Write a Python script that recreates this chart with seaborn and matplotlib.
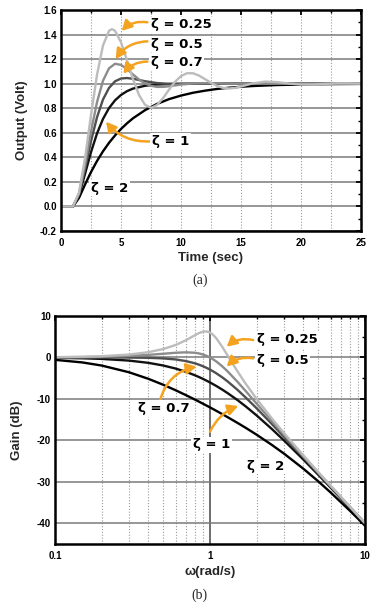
import matplotlib
matplotlib.use("Agg")
import matplotlib.pyplot as plt
import numpy as np
import pandas as pd
import seaborn as sns
from matplotlib.ticker import MultipleLocator, FixedLocator, NullFormatter, FormatStrFormatter, LogLocator

sns.set_theme(style="white")
plt.rcParams["font.family"] = ["Liberation Sans", "DejaVu Sans"]
plt.rcParams["font.weight"] = "bold"
plt.rcParams["axes.unicode_minus"] = False

# ---------------- data: (a) step response ----------------
zeta_names = ["0.25", "0.5", "0.7", "1", "2"]

t_z025 = [0, 1, 1.5, 2, 2.5, 3, 3.5, 4, 4.25, 4.5, 5, 5.5, 6, 6.5, 7, 7.5, 8, 8.5, 9, 9.5,
          10, 10.5, 11, 11.5, 12, 12.5, 13, 13.5, 14, 14.5, 15, 16, 17, 18, 19, 20, 21, 22, 23, 24, 25]
y_z025 = [0, 0, 0.113, 0.392, 0.743, 1.071, 1.311, 1.431, 1.444, 1.431, 1.337, 1.192, 1.037, 0.908,
          0.828, 0.803, 0.826, 0.882, 0.951, 1.015, 1.062, 1.085, 1.085, 1.066, 1.037, 1.007, 0.981,
          0.966, 0.961, 0.966, 0.977, 1.003, 1.017, 1.013, 1.001, 0.993, 0.993, 0.998, 1.003, 1.003, 1.001]

t_z05 = [0, 1, 1.5, 2, 2.5, 3, 3.5, 4, 4.5, 5, 5.5, 6, 6.5, 7, 7.5, 8, 8.5, 9, 9.5, 10,
         11, 12, 13, 14, 15, 20, 25]
y_z05 = [0, 0, 0.104, 0.340, 0.610, 0.849, 1.024, 1.125, 1.162, 1.153, 1.119, 1.075, 1.034, 1.002,
         0.983, 0.974, 0.974, 0.979, 0.986, 0.993, 1.002, 1.004, 1.003, 1.000, 1.000, 1.000, 1.000]

t_z07 = [0, 1, 1.5, 2, 2.5, 3, 3.5, 4, 4.5, 5, 5.5, 6, 6.5, 7, 8, 9, 10, 11, 15, 20, 25]
y_z07 = [0, 0, 0.098, 0.306, 0.531, 0.726, 0.871, 0.965, 1.019, 1.042, 1.046, 1.040, 1.030, 1.020,
         1.005, 0.999, 0.998, 0.999, 1.000, 1.000, 1.000]

t_z1 = [0, 1, 1.5, 2, 2.5, 3, 3.5, 4, 4.5, 5, 5.5, 6, 7, 8, 9, 10, 12, 15, 20, 25]
y_z1 = [0, 0, 0.090, 0.264, 0.442, 0.594, 0.713, 0.801, 0.864, 0.908, 0.939, 0.960, 0.983, 0.993,
        0.997, 0.999, 1.000, 1.000, 1.000, 1.000]

t_z2 = [0, 1, 1.5, 2, 2.5, 3, 3.5, 4, 4.5, 5, 5.5, 6, 7, 8, 9, 10, 11, 12, 13, 14, 15, 16, 17, 18,
        19, 20, 21, 23, 25]
y_z2 = [0, 0, 0.070, 0.178, 0.280, 0.370, 0.449, 0.518, 0.578, 0.631, 0.677, 0.718, 0.784, 0.835,
        0.874, 0.903, 0.926, 0.943, 0.957, 0.967, 0.975, 0.981, 0.985, 0.989, 0.991, 0.993, 0.995,
        0.997, 0.998]

# ---------------- data: (b) gain ----------------
w = [0.1, 0.15, 0.2, 0.3, 0.4, 0.5, 0.6, 0.7, 0.8, 0.85, 0.9, 0.95, 1.0, 1.05, 1.1, 1.2, 1.3,
     1.5, 1.7, 2, 2.5, 3, 4, 5, 6, 8, 10]
g_z025 = [0.08, 0.17, 0.31, 0.70, 1.28, 2.04, 3.01, 4.17, 5.38, 5.89, 6.22, 6.29, 6.02, 5.43, 4.60,
          2.57, 0.46, -3.27, -6.33, -10.00, -14.64, -18.21, -23.60, -27.65, -30.91, -36.00, -39.92]
g_z05 = [0.04, 0.10, 0.17, 0.37, 0.63, 0.90, 1.14, 1.25, 1.14, 0.97, 0.73, 0.40, 0.00, -0.47, -0.98,
         -2.13, -3.36, -5.81, -8.10, -11.14, -15.29, -18.63, -23.82, -27.79, -31.01, -36.06, -39.96]
g_z07 = [0.00, 0.00, 0.00, -0.02, -0.08, -0.22, -0.47, -0.87, -1.41, -1.74, -2.11, -2.50, -2.92,
         -3.37, -3.83, -4.79, -5.78, -7.76, -9.66, -12.26, -16.00, -19.12, -24.09, -27.96, -31.12,
         -36.12, -40.00]
g_z1 = [-0.09, -0.19, -0.34, -0.75, -1.29, -1.94, -2.67, -3.46, -4.30, -4.72, -5.15, -5.59, -6.02,
        -6.46, -6.89, -7.75, -8.60, -10.24, -11.80, -13.98, -17.21, -20.00, -24.61, -28.30, -31.36,
        -36.26, -40.09]
g_z2 = [-0.57, -1.19, -1.94, -3.56, -5.14, -6.59, -7.90, -9.09, -10.16, -10.66, -11.14, -11.60,
        -12.04, -12.47, -12.88, -13.66, -14.40, -15.75, -16.97, -18.63, -21.06, -23.18, -26.82,
        -29.89, -32.56, -36.98, -40.57]

step_t = [t_z025, t_z05, t_z07, t_z1, t_z2]
step_y = [y_z025, y_z05, y_z07, y_z1, y_z2]
gains = [g_z025, g_z05, g_z07, g_z1, g_z2]

df_step = pd.concat([pd.DataFrame({"t": tt, "y": yy, "zeta": z})
                     for tt, yy, z in zip(step_t, step_y, zeta_names)], ignore_index=True)
df_gain = pd.concat([pd.DataFrame({"w": w, "g": gg, "zeta": z})
                     for gg, z in zip(gains, zeta_names)], ignore_index=True)

palette = {"0.25": "#bcbcbc", "0.5": "#8c8c8c", "0.7": "#4f4f4f", "1": "#111111", "2": "#000000"}
draw_order = ["2", "1", "0.7", "0.5", "0.25"]
orange = "#F4A321"

fig = plt.figure(figsize=(3.8, 6.03), dpi=100)
fig.patch.set_facecolor("white")
ax1 = fig.add_axes([0.1605, 0.6169, 0.7895, 0.3665])
ax2 = fig.add_axes([0.1447, 0.0978, 0.8158, 0.3781])

sns.lineplot(data=df_step, x="t", y="y", hue="zeta", hue_order=draw_order, palette=palette,
             estimator=None, lw=1.7, legend=False, ax=ax1)
sns.lineplot(data=df_gain, x="w", y="g", hue="zeta", hue_order=draw_order, palette=palette,
             estimator=None, lw=1.7, legend=False, ax=ax2)

# ---- axes (a)
ax1.set_xlim(0, 25)
ax1.set_ylim(-0.2, 1.6)
ax1.xaxis.set_major_locator(MultipleLocator(5))
ax1.xaxis.set_minor_locator(MultipleLocator(2.5))
ax1.yaxis.set_major_locator(MultipleLocator(0.2))
ax1.yaxis.set_minor_locator(MultipleLocator(0.1))
ax1.yaxis.set_major_formatter(FormatStrFormatter("%.1f"))
ax1.grid(axis="y", which="major", color="#7a7a7a", lw=1.1, ls="-")
ax1.grid(axis="x", which="both", color="#9a9a9a", lw=0.8, ls=(0, (1, 1.6)))
ax1.set_xlabel("Time (sec)", fontsize=9.5, fontweight="bold")
ax1.set_ylabel("Output (Volt)", fontsize=9.5, fontweight="bold")
ax1.xaxis.set_label_coords(0.5, -0.122)
ax1.xaxis.label.set_va("center")
ax1.yaxis.set_label_coords(-0.13, 0.5)
ax1.yaxis.label.set_va("center")

# ---- axes (b)
ax2.set_xscale("log")
ax2.set_xlim(0.1, 10)
ax2.set_ylim(-45, 10)
ax2.xaxis.set_major_locator(FixedLocator([0.1, 1, 10]))
ax2.xaxis.set_minor_locator(LogLocator(base=10, subs=np.arange(2, 10)))
ax2.xaxis.set_minor_formatter(NullFormatter())
ax2.set_xticklabels(["0.1", "1", "10"])
ax2.yaxis.set_major_locator(MultipleLocator(10))
ax2.yaxis.set_minor_locator(MultipleLocator(5))
ax2.grid(axis="y", which="major", color="#7a7a7a", lw=1.1, ls="-")
ax2.grid(axis="x", which="major", color="#555555", lw=1.2, ls="-")
ax2.grid(axis="x", which="minor", color="#9a9a9a", lw=0.8, ls=(0, (1, 1.6)))
ax2.set_xlabel("ω(rad/s)", fontsize=9.5, fontweight="bold")
ax2.set_ylabel("Gain (dB)", fontsize=9.5, fontweight="bold")
ax2.xaxis.set_label_coords(0.5, -0.1215)
ax2.xaxis.label.set_va("center")
ax2.yaxis.set_label_coords(-0.121, 0.5)
ax2.yaxis.label.set_va("center")

for ax in (ax1, ax2):
    ax.set_facecolor("white")
    ax.set_axisbelow(True)
    for s in ax.spines.values():
        s.set_linewidth(1.8)
        s.set_color("black")
        s.set_zorder(6)
    ax.tick_params(which="both", direction="in", top=True, right=True, colors="black")
    ax.tick_params(which="major", length=3.5, width=1.3, labelsize=7, pad=3)
    ax.tick_params(which="minor", length=2, width=1.0)
    ax.tick_params(axis="x", which="major", pad=5)
    for lab in ax.get_xticklabels() + ax.get_yticklabels():
        lab.set_fontweight("bold")

lab_kw = dict(fontsize=9.5, fontweight="bold", family=["DejaVu Sans"], color="black",
              va="center", ha="left", zorder=8,
              bbox=dict(facecolor="white", edgecolor="none", pad=1.2))
arr_kw = dict(arrowstyle="-|>,head_length=0.6,head_width=0.32", color=orange, lw=1.8,
              shrinkA=0, shrinkB=0, mutation_scale=10)

# labels (a)
ax1.text(7.5, 1.478, "ζ = 0.25", **lab_kw)
ax1.text(7.5, 1.323, "ζ = 0.5", **lab_kw)
ax1.text(7.5, 1.176, "ζ = 0.7", **lab_kw)
ax1.text(7.55, 0.528, "ζ = 1", **lab_kw)
ax1.text(2.47, 0.150, "ζ = 2", **lab_kw)
for head, tail, rad in [((5.05, 1.43), (7.2, 1.50), 0.25),
                        ((4.55, 1.20), (7.2, 1.345), 0.25),
                        ((5.2, 1.08), (7.2, 1.18), 0.25),
                        ((3.75, 0.69), (7.45, 0.53), -0.25)]:
    ax1.annotate("", xy=head, xytext=tail, zorder=7,
                 arrowprops=dict(connectionstyle=f"arc3,rad={rad}", **arr_kw))

# labels (b)
ax2.text(2.0, 4.33, "ζ = 0.25", **lab_kw)
ax2.text(2.0, -0.78, "ζ = 0.5", **lab_kw)
ax2.text(0.343, -12.3, "ζ = 0.7", **lab_kw)
ax2.text(0.777, -21.1, "ζ = 1", **lab_kw)
ax2.text(1.73, -26.2, "ζ = 2", **lab_kw)
for head, tail, rad in [((1.28, 2.6), (1.9, 4.2), 0.25),
                        ((1.28, -2.2), (1.9, -0.2), 0.25),
                        ((0.82, -2.2), (0.476, -10.3), -0.3),
                        ((1.52, -11.7), (1.0, -17.9), -0.2)]:
    ax2.annotate("", xy=head, xytext=tail, zorder=7,
                 arrowprops=dict(connectionstyle=f"arc3,rad={rad}", **arr_kw))

fig.text(0.526, 1 - 280 / 603, "(a)", ha="center", va="center", fontsize=10,
         family=["Liberation Serif"], fontweight="normal")
fig.text(0.526, 0.002, "(b)", ha="center", va="bottom", fontsize=10,
         family=["Liberation Serif"], fontweight="normal")

fig.savefig("out.png", dpi=100, facecolor="white")
